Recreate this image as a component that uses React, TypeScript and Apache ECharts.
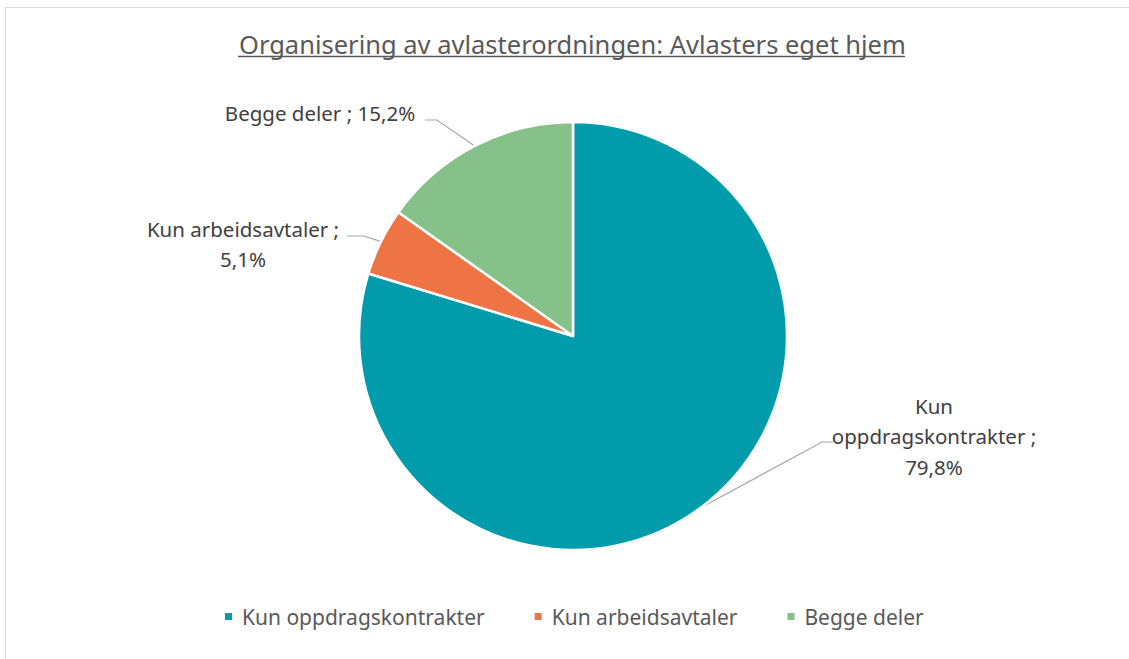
import React, { useEffect, useRef } from "react";
import * as echarts from "echarts";

const titleText = "Organisering av avlasterordningen: Avlasters eget hjem";
const categories = ["Kun oppdragskontrakter", "Kun arbeidsavtaler", "Begge deler"];
const values = [79.8, 5.1, 15.2];
const colors = ["#019CAB", "#EF7445", "#85C188"];
const labelTexts = ["Kun\noppdragskontrakter ;\n79,8%", "Kun arbeidsavtaler ;\n5,1%", "Begge deler ; 15,2%"];

const FONT = "'Noto Sans', 'Open Sans', sans-serif";

export default function App() {
  const ref = useRef<HTMLDivElement>(null);
  useEffect(() => {
    if (!ref.current) return;
    const chart = echarts.init(ref.current, undefined, { renderer: "svg" });
    const cx = 573;
    const cy = 336;
    const labelPos = [
      { x: 934, y: 436, align: "center", line: [[822, 442], [833, 442]] },
      { x: 243, y: 244, align: "center", line: [[364, 236], [347, 236]] },
      { x: 320, y: 113, align: "center", line: [[437, 120], [425, 120]] },
    ];
    chart.setOption({
      animation: false,
      backgroundColor: "#FFFFFF",
      title: {
        text: titleText,
        left: 234,
        top: 26,
        textStyle: { fontFamily: FONT, fontSize: 25.5, fontWeight: "normal", color: "#595959" },
      },
      legend: {
        top: 601,
        left: 218,
        icon: "rect",
        itemWidth: 9,
        itemHeight: 9,
        itemGap: 48,
        textStyle: { fontFamily: FONT, fontSize: 21, color: "#595959", padding: [0, 0, 0, 4] },
        data: categories,
      },
      graphic: [
        {
          type: "rect",
          shape: { x: 5.5, y: 7.5, width: 1200, height: 800 },
          style: { fill: "none", stroke: "#D9D9D9", lineWidth: 1 },
          silent: true,
        },
        {
          type: "line",
          shape: { x1: 238, y1: 56.5, x2: 905, y2: 56.5 },
          style: { stroke: "#595959", lineWidth: 1.5 },
          silent: true,
        },
      ],
      series: [
        {
          type: "pie",
          center: [cx, cy],
          radius: 214,
          startAngle: 90,
          clockwise: true,
          avoidLabelOverlap: false,
          data: categories.map((c, i) => ({ name: c, value: values[i], itemStyle: { color: colors[i] } })),
          itemStyle: { borderColor: "#FFFFFF", borderWidth: 2.5 },
          label: {
            show: true,
            position: "outside",
            formatter: (p: any) => labelTexts[p.dataIndex],
            fontFamily: FONT,
            fontSize: 20.5,
            lineHeight: 30.5,
            color: "#404040",
            align: "center",
          },
          labelLine: { show: true, lineStyle: { color: "#A6A6A6", width: 1.2 } },
          labelLayout: (params: any) => {
            const lp = labelPos[params.dataIndex];
            const start = params.labelLinePoints ? params.labelLinePoints[0] : lp.line[0];
            return {
              x: lp.x,
              y: lp.y,
              align: lp.align,
              verticalAlign: "middle",
              labelLinePoints: [start, lp.line[0], lp.line[1]],
            };
          },
          emphasis: { disabled: true },
        },
      ],
    });
    return () => chart.dispose();
  }, []);
  return <div ref={ref} style={{ position: "fixed", left: 0, top: 0, width: 1129, height: 659 }} />;
}
